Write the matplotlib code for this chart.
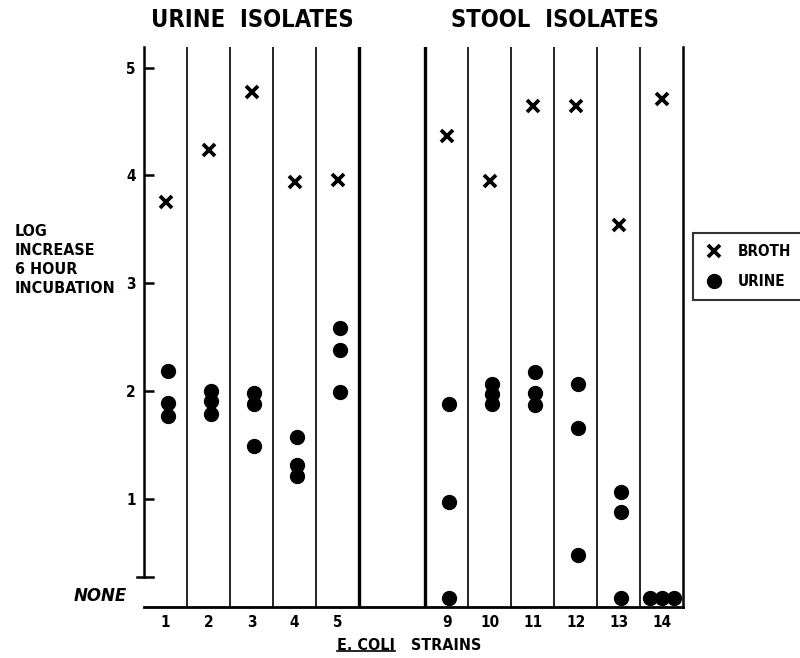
import matplotlib.pyplot as plt
from matplotlib.lines import Line2D

# data (log increase after 6 hour incubation)
urine_strains = ['1', '2', '3', '4', '5']
stool_strains = ['9', '10', '11', '12', '13', '14']
broth_urine_iso = [3.75, 4.24, 4.77, 3.94, 3.96]
broth_stool_iso = [4.37, 3.95, 4.64, 4.64, 3.54, 4.71]
urine_urine_iso = [[2.19, 1.89, 1.77], [2.00, 1.91, 1.79], [1.98, 1.88, 1.49],
                   [1.58, 1.32, 1.21], [2.59, 2.38, 1.99]]
urine_stool_iso = [[1.88, 0.97, 0.08], [2.07, 1.97, 1.88], [2.18, 1.98, 1.87],
                   [2.07, 1.66, 0.48], [1.07, 0.88, 0.08], [0.08, 0.08, 0.08]]
ytick_vals = [1, 2, 3, 4, 5]

FONT = dict(family='DejaVu Sans', fontstretch='condensed', fontweight='bold')

gap = 1.535  # empty space between the two panels, in column widths
x_left = [i + 0.5 for i in range(len(urine_strains))]
x_right = [len(urine_strains) + gap + i + 0.5 for i in range(len(stool_strains))]
x_end = len(urine_strains) + gap + len(stool_strains)

fig = plt.figure(figsize=(8, 6.58), dpi=100)
ax = fig.add_axes([0.18, 0.0775, 0.674, 0.851])
ax.set_xlim(0, x_end)
ax.set_ylim(0, 5.19)

# column separators
for i in range(1, len(urine_strains)):
    ax.axvline(i, color='black', lw=1.2)
ax.axvline(len(urine_strains), color='black', lw=2.4)
ax.axvline(len(urine_strains) + gap, color='black', lw=2.4)
for i in range(1, len(stool_strains)):
    ax.axvline(len(urine_strains) + gap + i, color='black', lw=1.2)
ax.axvline(x_end, color='black', lw=1.8, clip_on=False)

# points
xs = x_left + x_right
broth = broth_urine_iso + broth_stool_iso
urine = urine_urine_iso + urine_stool_iso
for x, b, u in zip(xs, broth, urine):
    ax.plot(x, b, 'x', color='black', ms=8, mew=2.7, clip_on=False)
    if len(set(u)) == 1:
        offs = [-0.27, 0, 0.28]
    else:
        offs = [0.05] * len(u)
    for o, v in zip(offs, u):
        ax.plot(x + o, v, 'o', color='black', ms=10, clip_on=False)

# axes styling
for s in ['top', 'right']:
    ax.spines[s].set_visible(False)
ax.spines['left'].set_bounds(0.28, 5.19)
ax.spines['left'].set_linewidth(1.8)
ax.spines['bottom'].set_linewidth(2.0)
ax.plot([-0.17, 0.2], [0.28, 0.28], color='black', lw=1.8, clip_on=False)

ax.set_yticks(ytick_vals)
ax.set_yticklabels([str(v) for v in ytick_vals], fontsize=11, **FONT)
ax.tick_params(axis='y', direction='in', length=7, width=1.8, pad=6)
ax.set_xticks(xs)
ax.set_xticklabels(urine_strains + stool_strains, fontsize=11, **FONT)
ax.tick_params(axis='x', length=0, pad=6)

ax.text(-0.4, 0.1, 'NONE', ha='right', va='center', fontsize=12,
        family='DejaVu Sans', fontweight='bold', fontstyle='italic')

fig.text(252 / 800, 1 - 20 / 658, 'URINE  ISOLATES', ha='center', va='center',
         fontsize=17, **FONT)
fig.text(555 / 800, 1 - 20 / 658, 'STOOL  ISOLATES', ha='center', va='center',
         fontsize=17, **FONT)
fig.text(15 / 800, 1 - 260 / 658, 'LOG\nINCREASE\n6 HOUR\nINCUBATION',
         ha='left', va='center', fontsize=11.5, linespacing=1.35, **FONT)

# x axis title with underlined "E. COLI"
t = fig.text(337 / 800, 1 - 645 / 658, 'E. COLI', ha='left', va='center',
             fontsize=11.5, **FONT)
fig.text(481 / 800, 1 - 645 / 658, 'STRAINS', ha='right', va='center',
         fontsize=11.5, **FONT)
fig.canvas.draw()
bb = t.get_window_extent().transformed(fig.transFigure.inverted())
fig.add_artist(Line2D([bb.x0, bb.x1], [bb.y0 + 0.002, bb.y0 + 0.002],
                      color='black', lw=1.2))

# legend
handles = [Line2D([], [], ls='none', marker='x', color='black', ms=8, mew=2.7),
           Line2D([], [], ls='none', marker='o', color='black', ms=10)]
leg = fig.legend(handles, ['BROTH', 'URINE'], loc='upper left',
                 bbox_to_anchor=(693 / 800, 1 - 233 / 658), borderaxespad=0,
                 frameon=True, fancybox=False, edgecolor='black',
                 handletextpad=1.0, borderpad=0.75, labelspacing=0.95,
                 handlelength=1.2,
                 prop=dict(size=11, weight='bold', family='DejaVu Sans',
                           stretch='condensed'))
leg.get_frame().set_linewidth(1.5)

fig.savefig('out.png', dpi=100)
